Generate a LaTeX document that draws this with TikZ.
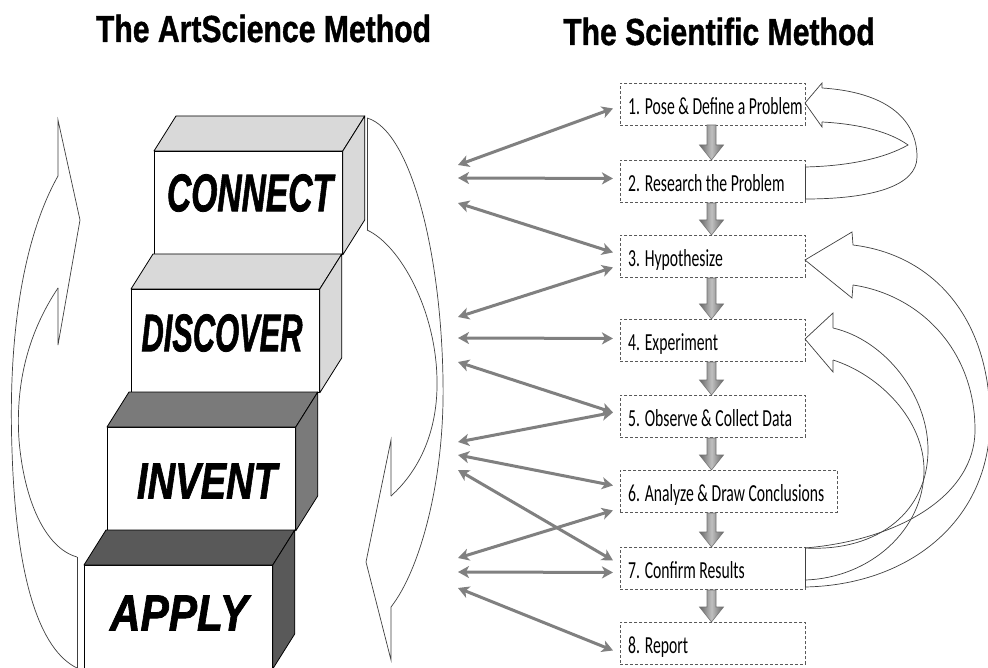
\documentclass[tikz,border=0pt]{standalone}
\usepackage{fontspec}
\setmainfont[BoldFeatures={FakeBold=1.2},BoldItalicFeatures={FakeBold=1.6}]{Liberation Sans}
\newfontfamily\carl{Carlito}
\usetikzlibrary{arrows.meta,calc}
\definecolor{facelight}{gray}{0.85}
\definecolor{facemid}{gray}{0.48}
\definecolor{facedark}{gray}{0.35}
\newcommand{\boxtext}[1]{\scalebox{0.64}[1]{\carl\fontsize{24.5}{26}\selectfont #1}}
\newcommand{\titletext}[1]{\scalebox{0.8}[1]{\fontsize{37.7}{40}\selectfont\bfseries #1}}
\begin{document}
\begin{tikzpicture}[x=1pt,y=-1pt,
  face/.style={draw=black,line width=0.8pt,line join=round},
  front/.style={face,fill=white,minimum width=188pt,minimum height=103pt,inner sep=0pt,anchor=north west},
  stairlabel/.style={inner sep=0pt},
  ribbon/.style={draw=black!75,line width=0.7pt,line join=miter},
  link/.style={draw=black!50,line width=3pt,{Stealth[length=11pt,width=12pt,inset=3pt]}-{Stealth[length=11pt,width=12pt,inset=3pt]}},
  stepbox/.style={draw=black!65,line width=0.9pt,dash pattern=on 3pt off 2pt,minimum width=185pt,minimum height=42pt,inner sep=0pt,anchor=north west},
  steptext/.style={anchor=base west,inner sep=0pt},
  downarrow/.style={draw=black!55,line width=0.6pt,left color=black!60,right color=black!60,middle color=black!25}
]
\useasboundingbox (0,0) rectangle (988,668);
\fill[white] (0,0) rectangle (988,668);

% titles
\node[anchor=base,inner sep=0pt] (t1) at (263.5,42) {\titletext{The ArtScience Method}};
\node[anchor=base,inner sep=0pt] (t2) at (719,45) {\titletext{The Scientific Method}};

% staircase
\node[front] (connect) at (154,151) {};
\node[front] (discover) at (131,289) {};
\node[front] (invent) at (107,427) {};
\node[front] (apply) at (84,565) {};
\foreach \n/\c in {connect/facelight,discover/facelight,invent/facemid,apply/facedark}{
  \filldraw[face,fill=\c] (\n.north west) -- ++(22,-35) -- ([shift={(22,-35)}]\n.north east) -- (\n.north east) -- cycle;
  \filldraw[face,fill=\c] (\n.north east) -- ++(22,-35) -- ([shift={(22,-35)}]\n.south east) -- (\n.south east) -- cycle;
}
\node[stairlabel] (lc) at (250,193) {\resizebox{166pt}{37pt}{\bfseries\itshape CONNECT}};
\node[stairlabel] (ld) at (222,333) {\resizebox{161pt}{37pt}{\bfseries\itshape DISCOVER}};
\node[stairlabel] (li) at (207,481) {\resizebox{140pt}{35pt}{\bfseries\itshape INVENT}};
\node[stairlabel] (la) at (179,613) {\resizebox{138pt}{35pt}{\bfseries\itshape APPLY}};

% left cycle arrow (pointing up)
\draw[ribbon] (58,176) -- (58,120) -- (80,220) -- (58,345) -- (58,288);
\draw[ribbon] (58,176) .. controls (22,240) and (8,340) .. (12,450) .. controls (16,580) and (40,650) .. (77,668);
\draw[ribbon] (58,288) .. controls (30,330) and (15,380) .. (19,440) .. controls (24,500) and (45,548) .. (77,557);
\draw[ribbon] (77,557) -- (77,668);
% right cycle arrow (pointing down)
\draw[ribbon] (391,496) -- (391,440) -- (366,562) -- (391,660) -- (391,607);
\draw[ribbon] (367,118) .. controls (410,130) and (441,250) .. (443,380) .. controls (445,480) and (420,570) .. (391,607);
\draw[ribbon] (367,230) .. controls (400,245) and (436,310) .. (437,380) .. controls (438,430) and (420,470) .. (391,496);
\draw[ribbon] (367,118) -- (367,230);

% scientific method boxes
\node[stepbox] (b1) at (620,83) {};
\node[stepbox] (b2) at (620,160) {};
\node[stepbox] (b3) at (620,235) {};
\node[stepbox] (b4) at (620,319) {};
\node[stepbox] (b5) at (620,395) {};
\node[stepbox,minimum width=217pt] (b6) at (620,470) {};
\node[stepbox] (b7) at (620,547) {};
\node[stepbox] (b8) at (620,622) {};
\node[steptext] (s1) at ([shift={(8,31.5)}]b1.north west) {\boxtext{1. Pose \& Define a Problem}};
\node[steptext] (s2) at ([shift={(8,31.5)}]b2.north west) {\boxtext{2. Research the Problem}};
\node[steptext] (s3) at ([shift={(8,31.5)}]b3.north west) {\boxtext{3. Hypothesize}};
\node[steptext] (s4) at ([shift={(8,31.5)}]b4.north west) {\boxtext{4. Experiment}};
\node[steptext] (s5) at ([shift={(8,31.5)}]b5.north west) {\boxtext{5. Observe \& Collect Data}};
\node[steptext] (s6) at ([shift={(8,31.5)}]b6.north west) {\boxtext{6. Analyze \& Draw Conclusions}};
\node[steptext] (s7) at ([shift={(8,31.5)}]b7.north west) {\boxtext{7. Confirm Results}};
\node[steptext] (s8) at ([shift={(8,31.5)}]b8.north west) {\boxtext{8. Report}};

% block arrows between boxes
\foreach \a/\b in {125/160,203/235,278/319,362/395,438/470,513/547,590/622}{
  \draw[downarrow] (707,\a) -- (716,\a) -- (716,{\b-15}) -- (723.5,{\b-15}) -- (711.5,\b) -- (699.5,{\b-15}) -- (707,{\b-15}) -- cycle;
}

% double-headed links
\coordinate (p1) at (458,165);
\coordinate (p2) at (458,178);
\coordinate (p3) at (458,203);
\coordinate (p4) at (458,317);
\coordinate (p5) at (458,338);
\coordinate (p6) at (458,362);
\coordinate (p7) at (458,442);
\coordinate (p8) at (458,455);
\coordinate (p9) at (458,470);
\coordinate (p10) at (458,558);
\coordinate (p11) at (458,572);
\coordinate (p12) at (458,588);
\draw[link] (p1) -- ([shift={(-7,4)}]b1.west);
\draw[link] (p2) -- ([shift={(-7,-3)}]b2.west);
\draw[link] (p3) -- ([shift={(-7,-4)}]b3.west);
\draw[link] (p4) -- ([shift={(-7,11)}]b3.west);
\draw[link] (p5) -- ([shift={(-7,-2)}]b4.west);
\draw[link] (p6) -- ([shift={(-7,-4)}]b5.west);
\draw[link] (p7) -- ([shift={(-7,-4)}]b5.west);
\draw[link] (p8) -- ([shift={(-7,-6)}]b6.west);
\draw[link] (p9) -- ([shift={(-7,-8)}]b7.west);
\draw[link] (p10) -- ([shift={(-7,19)}]b6.west);
\draw[link] (p11) -- ([shift={(-7,4)}]b7.west);
\draw[link] (p12) -- ([shift={(-7,7)}]b8.west);

% loop arrow box2 -> box1
\draw[ribbon] (822,88) -- (822,83) -- (805,103) -- (822,127) -- (822,122);
\draw[ribbon] (822,88) .. controls (885,92) and (917,118) .. (917,157) .. controls (917,186) and (872,199) .. (805,199);
\draw[ribbon] (822,122) .. controls (860,124) and (890,132) .. (908,145) .. controls (885,158) and (850,166) .. (805,167);
\draw[ribbon] (805,167) -- (805,199);
% loop arrow box7 -> box3
\draw[ribbon] (853,245) -- (852,232) -- (805,260) -- (852,298) -- (853,285);
\draw[ribbon] (853,245) .. controls (935,255) and (990,320) .. (990,420) .. controls (990,520) and (910,585) .. (805,587);
\draw[ribbon] (853,285) .. controls (920,295) and (975,350) .. (975,430) .. controls (975,495) and (900,540) .. (805,548);
% loop arrow box7 -> box4
\draw[ribbon] (833,328) -- (833,313) -- (805,339) -- (833,372) -- (833,360);
\draw[ribbon] (833,328) .. controls (885,340) and (928,395) .. (928,450) .. controls (928,510) and (880,552) .. (805,548);
\draw[ribbon] (833,360) .. controls (880,375) and (924,420) .. (924,470) .. controls (924,530) and (870,578) .. (805,580);
\draw[ribbon] (805,548) -- (805,587);
\end{tikzpicture}
\end{document}
